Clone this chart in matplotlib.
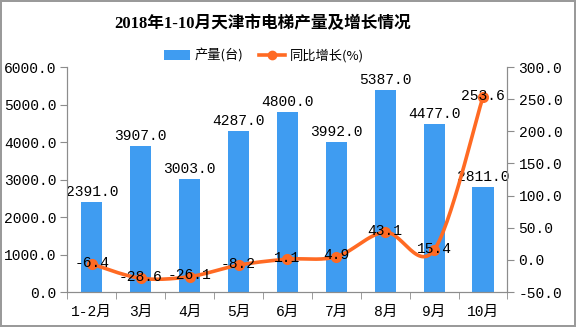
import numpy as np
import matplotlib
matplotlib.use("Agg")
import matplotlib.pyplot as plt
from matplotlib.lines import Line2D
from matplotlib.patches import Patch

plt.rcParams['font.family'] = ['Liberation Mono', 'Noto Sans CJK SC', 'DejaVu Sans']

# data
months = ['1-2月', '3月', '4月', '5月', '6月', '7月', '8月', '9月', '10月']
output = [2391.0, 3907.0, 3003.0, 4287.0, 4800.0, 3992.0, 5387.0, 4477.0, 2811.0]
growth = [-6.4, -28.6, -26.1, -8.2, 1.1, 4.9, 43.1, 15.4, 253.6]

BLUE = '#3f9cf1'
ORANGE = '#ff6a23'
GRAY = '#8c8c8c'


def smooth_curve(xs, ys, n=30):
    """catmull-rom curve through the points (just for drawing)"""
    pts = np.column_stack([xs, ys]).astype(float)
    p = np.vstack([pts[0], pts, pts[-1]])
    out = []
    t = np.linspace(0, 1, n)[:, None]
    for i in range(1, len(p) - 2):
        p0, p1, p2, p3 = p[i - 1], p[i], p[i + 1], p[i + 2]
        seg = 0.5 * ((2 * p1) + (-p0 + p2) * t
                     + (2 * p0 - 5 * p1 + 4 * p2 - p3) * t ** 2
                     + (-p0 + 3 * p1 - 3 * p2 + p3) * t ** 3)
        out.append(seg)
    out = np.vstack(out)
    return out[:, 0], out[:, 1]


fig = plt.figure(figsize=(5.76, 3.27), dpi=100)
fig.patch.set_edgecolor('#9a9a9a')
fig.patch.set_linewidth(1.5)
ax = fig.add_axes([0.117, 0.107, 0.764, 0.688])
ax2 = ax.twinx()

x = np.arange(len(months))
ax.bar(x, output, width=0.43, color=BLUE, zorder=2)
for xi, v in zip(x, output):
    ax.text(xi, v + 80, '%.1f' % v, ha='center', va='bottom', fontsize=10.5, color='black')

cx, cy = smooth_curve(x, growth)
ax2.plot(cx, cy, color=ORANGE, lw=2.6, solid_capstyle='round', zorder=3)
ax2.plot(x, growth, 'o', color=ORANGE, ms=7, zorder=4)
for xi, v in zip(x, growth):
    ax2.text(xi, v + 2, '%.1f' % v, ha='center', va='center', fontsize=10.5, color='black', zorder=5)

ax.set_xlim(-0.5, len(months) - 0.5)
ax.set_ylim(0, 6000)
ax.set_yticks(np.arange(0, 6001, 1000))
ax.set_yticklabels(['%.1f' % v for v in np.arange(0, 6001, 1000)], fontsize=10.5)
ax2.set_ylim(-50, 300)
ax2.set_yticks(np.arange(-50, 301, 50))
ax2.set_yticklabels(['%.1f' % v for v in np.arange(-50, 301, 50)], fontsize=10.5)

ax.set_xticks(x)
ax.set_xticklabels(months, fontsize=10.5)
ax.set_xticks(np.arange(-0.5, len(months), 1), minor=True)
ax.tick_params(axis='x', which='major', length=0, pad=9)
ax.tick_params(axis='x', which='minor', length=5, color=GRAY)
ax.tick_params(axis='y', length=5, color=GRAY, pad=3)
ax2.tick_params(axis='y', length=5, color=GRAY, pad=3)

for a in (ax, ax2):
    a.spines['top'].set_visible(False)
    for s in ('left', 'right', 'bottom'):
        a.spines[s].set_color(GRAY)

fig.text(0.455, 0.928, '2018年1-10月天津市电梯产量及增长情况', ha='center', va='center',
         fontsize=12, fontweight='bold', family=['Liberation Serif', 'Noto Sans CJK SC'])

handles = [Patch(facecolor=BLUE, edgecolor='none'),
           Line2D([0], [0], color=ORANGE, lw=2.6, marker='o', ms=6)]
fig.legend(handles, ['产量(台)', '同比增长(%)'], loc='center', bbox_to_anchor=(0.458, 0.83),
           ncol=2, frameon=False, fontsize=9.5, handlelength=2.0, handleheight=0.8,
           columnspacing=1.2, handletextpad=0.3,
           prop={'family': ['Noto Sans CJK SC', 'DejaVu Sans'], 'size': 9.5})

fig.savefig('out.png', dpi=100)
